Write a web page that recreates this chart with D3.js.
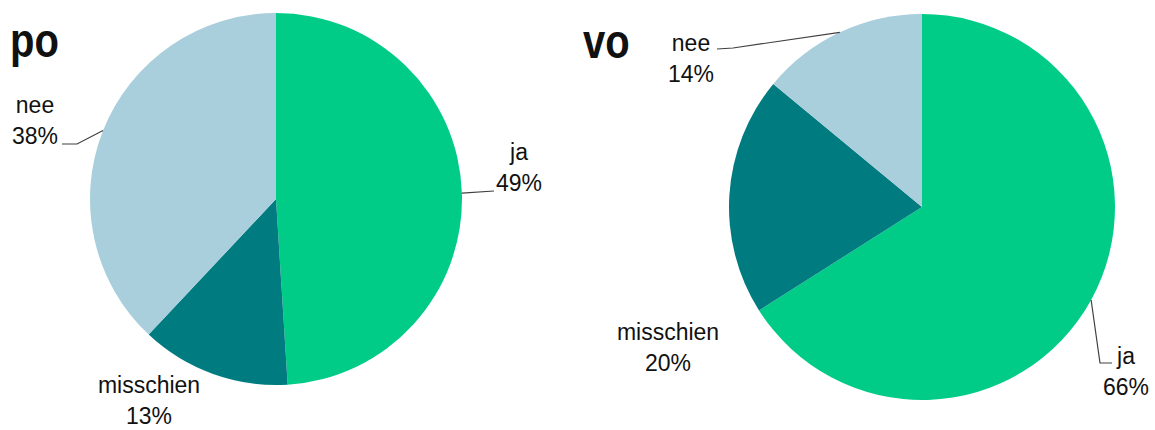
<!DOCTYPE html>
<html>
<head>
<meta charset="utf-8">
<script src="https://cdn.jsdelivr.net/npm/d3@7"></script>
<style>
  html, body { margin: 0; padding: 0; background: #fff; }
  svg text { font-family: "Liberation Sans", Arial, sans-serif; fill: #111; }
</style>
</head>
<body>
<div id="chart"></div>
<script>
// Data
const categories = ["ja", "misschien", "nee"];
const poValues = [49, 13, 38];
const voValues = [66, 20, 14];
const groups = ["po", "vo"];
const seriesValues = { po: poValues, vo: voValues };

const colors = d3.scaleOrdinal()
    .domain(categories)
    .range(["#00cc88", "#007c80", "#a9cfdc"]);

const width = 1155, height = 430;

const svg = d3.select("#chart")
    .append("svg")
    .attr("width", width)
    .attr("height", height);

// layout per pie: centre, radius, title spot, label spots and leader elbows
const layout = {
    po: {
        cx: 276, cy: 199, r: 186,
        title: [10, 57],
        labels: {
            ja: { x: 519, y: 160, elbow: [[494, 191]] },
            misschien: { x: 149, y: 393, elbow: null },
            nee: { x: 35, y: 113, elbow: [[77, 144], [62, 144]] }
        }
    },
    vo: {
        cx: 922, cy: 207, r: 193,
        title: [583, 58],
        labels: {
            ja: { x: 1126, y: 364, elbow: [[1100, 363], [1112, 363]] },
            misschien: { x: 668, y: 340, elbow: null },
            nee: { x: 691, y: 51, elbow: [[733, 48], [717, 49]] }
        }
    }
};

const pie = d3.pie().sort(null).value(d => d.value);

groups.forEach(key => {
    const L = layout[key];
    const data = categories.map((c, i) => ({ cat: c, value: seriesValues[key][i] }));
    const arcs = pie(data);
    const arc = d3.arc().innerRadius(0).outerRadius(L.r);

    const g = svg.append("g")
        .attr("transform", `translate(${L.cx},${L.cy})`);

    g.selectAll("path")
        .data(arcs)
        .enter()
        .append("path")
        .attr("d", arc)
        .attr("fill", d => colors(d.data.cat));

    // title
    svg.append("text")
        .attr("transform", `translate(${L.title[0]},${L.title[1]}) scale(1,1.2)`)
        .attr("font-size", 40)
        .attr("font-weight", "bold")
        .text(key);

    // leader lines
    arcs.forEach(d => {
        const lab = L.labels[d.data.cat];
        if (!lab.elbow) return;
        const mid = (d.startAngle + d.endAngle) / 2;
        const p0 = [L.cx + L.r * Math.sin(mid), L.cy - L.r * Math.cos(mid)];
        svg.append("path")
            .attr("d", d3.line()([p0, ...lab.elbow]))
            .attr("fill", "none")
            .attr("stroke", "#404040")
            .attr("stroke-width", 1.2);
    });

    // labels
    arcs.forEach(d => {
        const lab = L.labels[d.data.cat];
        const t = svg.append("g")
            .attr("transform", `translate(${lab.x},${lab.y})`);
        t.append("text")
            .attr("text-anchor", "middle")
            .attr("font-size", 23)
            .attr("transform", "scale(1,1.08)")
            .text(d.data.cat);
        t.append("text")
            .attr("text-anchor", "middle")
            .attr("font-size", 23)
            .attr("transform", "translate(0,31) scale(1,1.08)")
            .text(d.data.value + "%");
    });
});
</script>
</body>
</html>
